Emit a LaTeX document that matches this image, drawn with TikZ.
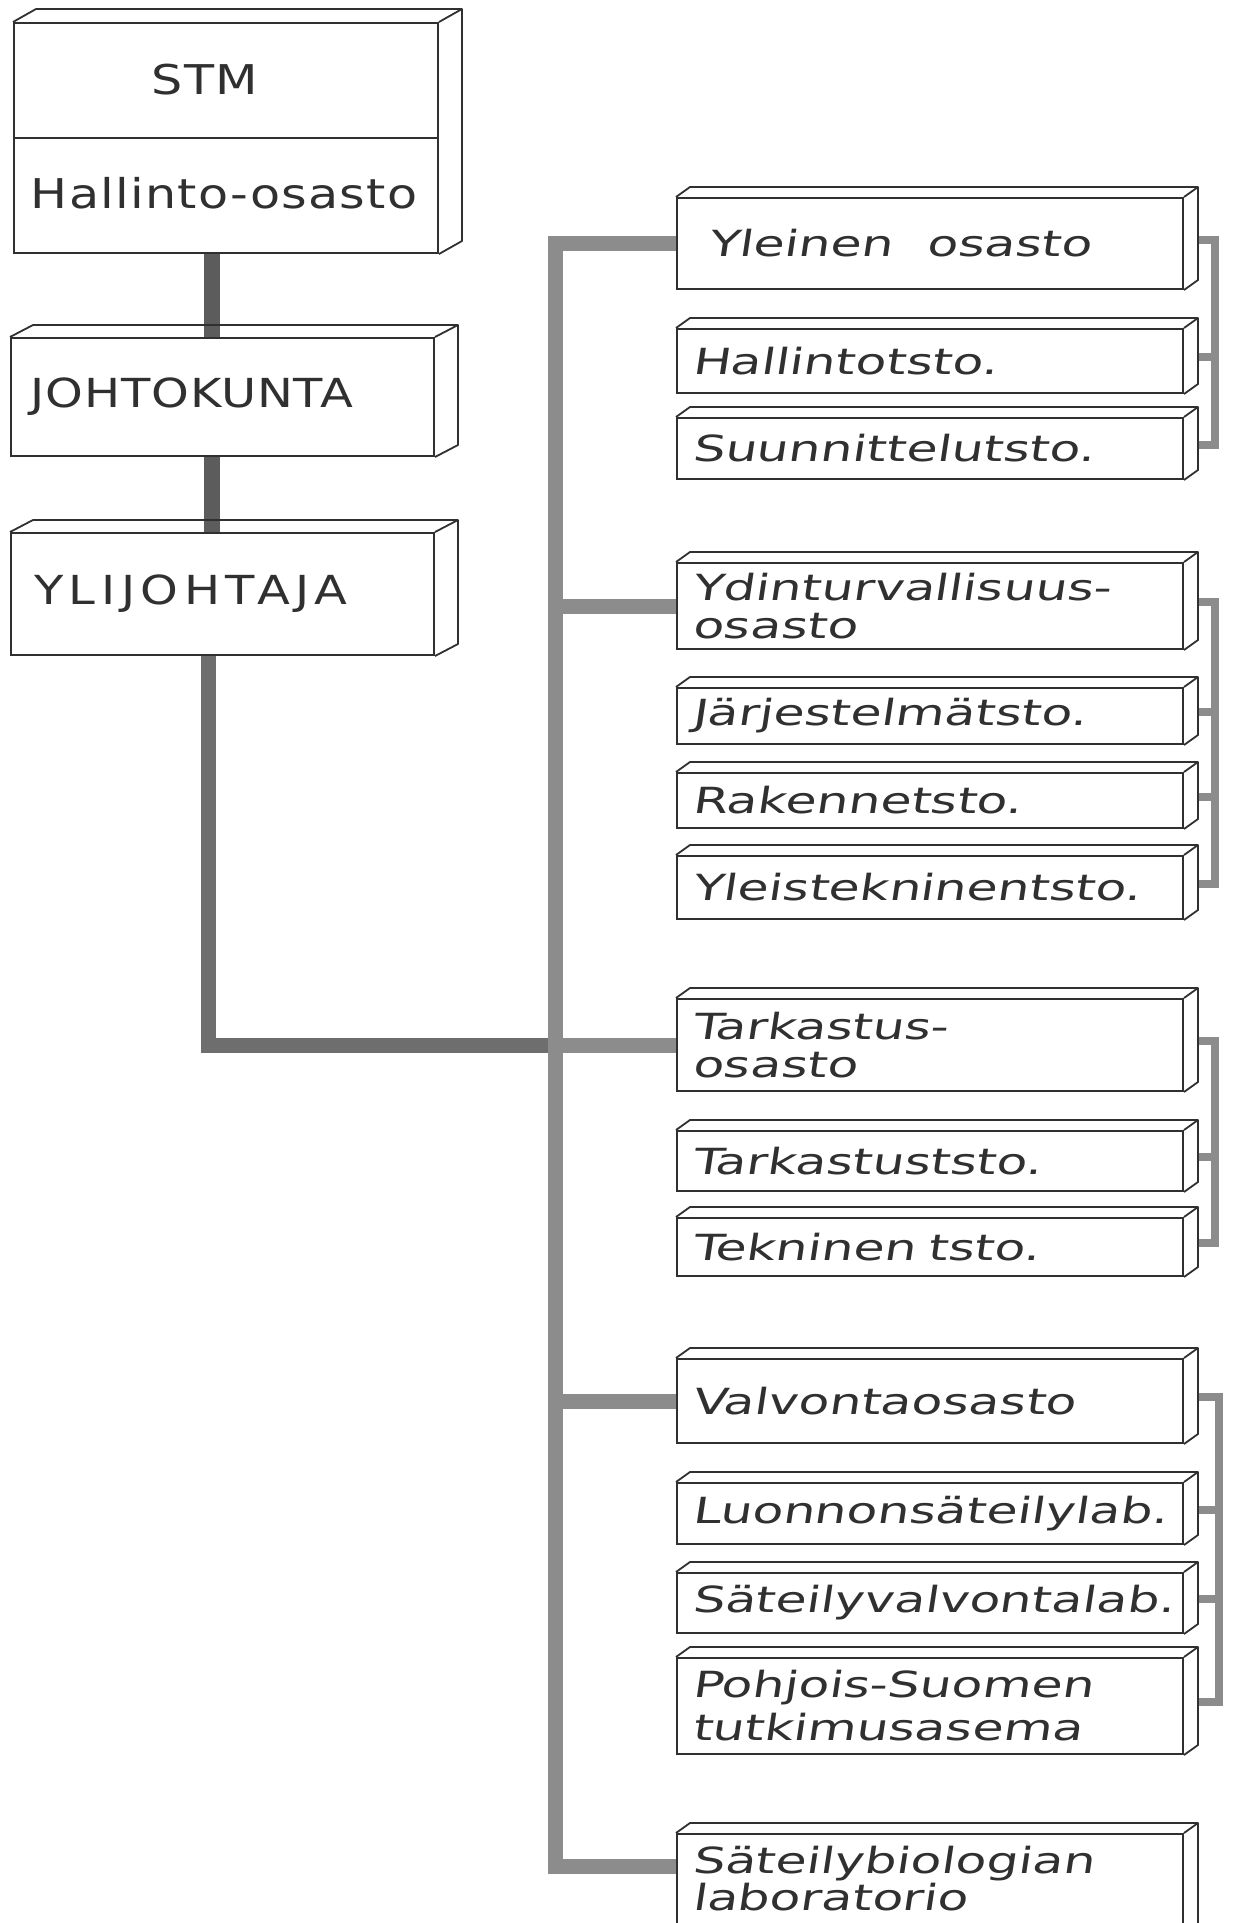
\documentclass[tikz,border=0pt]{standalone}
\usepackage{fontspec}
\newfontfamily\handfnt[FakeSlant=0.15,FakeStretch=1.4]{DejaVu Sans}
\newfontfamily\capsfnt[FakeStretch=1.2]{DejaVu Sans}
\pgfdeclarelayer{bg}
\pgfsetlayers{bg,main}
\definecolor{ink}{HTML}{303030}
\definecolor{spinec}{HTML}{5C5C5C}
\definecolor{ylic}{HTML}{6E6E6E}
\definecolor{trunkc}{HTML}{8C8C8C}
\newcommand\boxfaces[3]{%
  \draw[edge] (#1.north west) -- ++(#2,-#3) -- ([shift={(#2,-#3)}]#1.north east)
     -- ([shift={(#2,-#3)}]#1.south east) -- (#1.south east)
     (#1.north east) -- ++(#2,-#3);}
\begin{document}
\begin{tikzpicture}[x=0.5pt,y=-0.5pt,
  edge/.style={draw=ink,line width=0.9pt,line join=round},
  lbox/.style={draw=ink,line width=1pt,fill=white,anchor=north west,minimum width=212pt,
     inner ysep=0pt,align=left,text=ink,font=\capsfnt\fontsize{20}{24}\selectfont},
  ltext/.style={text=ink,font=\capsfnt\fontsize{20.5}{24}\selectfont,inner sep=0pt},
  rbox/.style={draw=ink,line width=1pt,fill=white,anchor=north west,inner ysep=0pt,
     inner xsep=7.5pt,text width=238pt,align=left,text=ink,
     font=\handfnt\fontsize{18}{19}\selectfont},
  spine/.style={draw=spinec,line width=8pt,line cap=butt,line join=miter},
  yliline/.style={draw=ylic,line width=7.5pt,line cap=butt,line join=miter},
  trunk/.style={draw=trunkc,line width=7.5pt,line cap=butt,line join=miter},
  brk/.style={draw=trunkc,line width=4pt,line cap=butt,line join=miter}]
\useasboundingbox (0,0) rectangle (1236,1923);
\clip (0,0) rectangle (1236,1923);

% left column
\node[lbox,minimum height=115pt] (stm) at (13,22) {};
\draw[edge] (stm.west |- 0,138) -- (stm.east |- 0,138);
\node[ltext] (stmlab) at (205,80) {\addfontfeature{LetterSpace=3}STM};
\node[ltext] (hallinto) at (224,193) {\addfontfeature{LetterSpace=3}Hallinto-osasto};
\node[lbox,minimum width=211.5pt,minimum height=59pt,inner xsep=10pt,text width=191.5pt]
   (johto) at (10,337) {\addfontfeature{LetterSpace=2}JOHTOKUNTA};
\node[lbox,minimum width=211.5pt,minimum height=61pt,inner xsep=11.5pt,text width=188.5pt]
   (yli) at (10,532) {\addfontfeature{LetterSpace=14}YLIJOHTAJA};
\boxfaces{stm}{23}{13}
\boxfaces{johto}{23}{12}
\boxfaces{yli}{23}{12}

% right column
\node[rbox,minimum height=45.5pt,inner xsep=15.5pt,text width=222pt] (yleinen) at (676,197) {Yleinen\hspace{0.6em} osasto};
\node[rbox,minimum height=32pt] (hallinto2) at (676,328) {Hallintotsto.};
\node[rbox,minimum height=30.5pt] (suunn) at (676,417) {Suunnittelutsto.};
\node[rbox,minimum height=43pt] (ydin) at (676,562) {Ydinturvallisuus-\\osasto};
\node[rbox,minimum height=28pt] (jarj) at (676,687) {Järjestelmätsto.};
\node[rbox,minimum height=27.5pt] (rak) at (676,772) {Rakennetsto.};
\node[rbox,minimum height=31.5pt] (yleis) at (676,855) {Yleistekninentsto.};
\node[rbox,minimum height=46pt] (tark) at (676,998) {Tarkastus-\\osasto};
\node[rbox,minimum height=30pt] (tarkt) at (676,1130) {Tarkastuststo.};
\node[rbox,minimum height=29pt] (tekn) at (676,1217) {Tekninen tsto.};
\node[rbox,minimum height=42pt] (valv) at (676,1358) {Valvontaosasto};
\node[rbox,minimum height=30.5pt] (luon) at (676,1482) {Luonnonsäteilylab.};
\node[rbox,minimum height=30pt] (satv) at (676,1572) {Säteilyvalvontalab.};
\node[rbox,minimum height=48pt,font=\handfnt\fontsize{18}{21.5}\selectfont] (pohj) at (676,1657) {Pohjois-Suomen\\tutkimusasema};
\node[rbox,minimum height=62.5pt,text depth=37pt,font=\handfnt\fontsize{18}{18.5}\selectfont] (sb) at (676,1833) {Säteilybiologian\\laboratorio};
\foreach \n in {yleinen,hallinto2,suunn,ydin,jarj,rak,yleis,tark,tarkt,tekn,valv,luon,satv,pohj,sb}
  {\boxfaces{\n}{14}{10}}

% connector helper coordinates
\coordinate (spx) at (212,0);
\coordinate (ylx) at (208,0);
\coordinate (trx) at (555,0);
\coordinate (brx) at (1215,0);
\coordinate (brx4) at (1219,0);
\coordinate (sbin) at (sb.west |- 0,1866);
\foreach \n in {yleinen,hallinto2,suunn,ydin,jarj,rak,yleis,tark,tarkt,tekn,valv,luon,satv,pohj}
  {\coordinate (\n-r) at ([shift={(14,-4)}]\n.east);}

\begin{pgfonlayer}{bg}
  \draw[spine] (stm.south -| spx) -- (johto.north -| spx);
  \draw[spine] (johto.south -| spx) -- (yli.north -| spx);
  \draw[yliline] (yli.south -| ylx) |- (tark.west);
  \draw[trunk] (yleinen.west) -| (trx |- sbin) -- (sbin);
  \foreach \n in {ydin,tark,valv} {\draw[trunk] (trx |- \n.west) -- (\n.west);}
  % brackets
  \draw[brk] (yleinen-r) -| (brx |- suunn-r) -- (suunn-r);
  \draw[brk] (hallinto2-r) -- (brx |- hallinto2-r);
  \draw[brk] (ydin-r) -| (brx |- yleis-r) -- (yleis-r);
  \foreach \n in {jarj,rak} {\draw[brk] (\n-r) -- (brx |- \n-r);}
  \draw[brk] (tark-r) -| (brx |- tekn-r) -- (tekn-r);
  \draw[brk] (tarkt-r) -- (brx |- tarkt-r);
  \draw[brk] (valv-r) -| (brx4 |- pohj-r) -- (pohj-r);
  \foreach \n in {luon,satv} {\draw[brk] (\n-r) -- (brx4 |- \n-r);}
\end{pgfonlayer}
\end{tikzpicture}
\end{document}
